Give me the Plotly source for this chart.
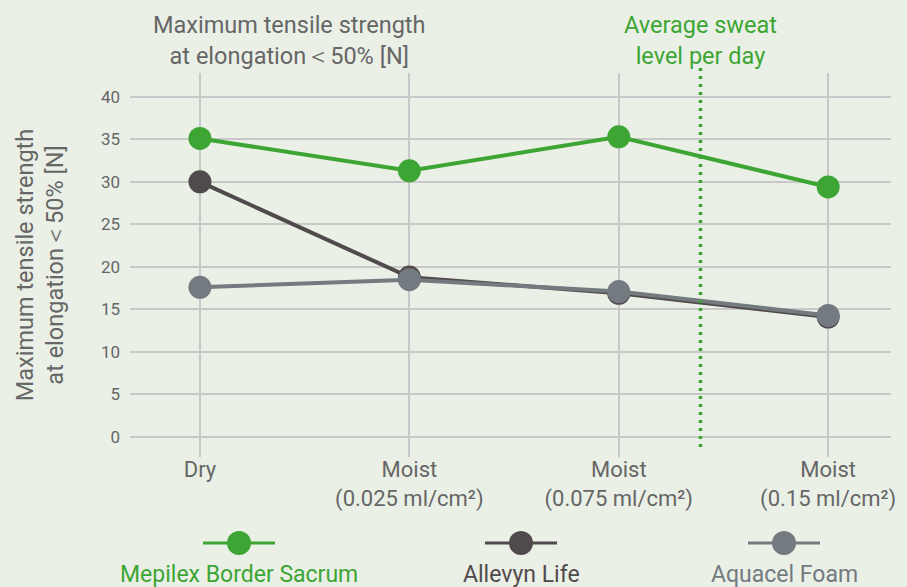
import plotly.graph_objects as go

categories = ["Dry", "Moist<br>(0.025 ml/cm²)", "Moist<br>(0.075 ml/cm²)", "Moist<br>(0.15 ml/cm²)"]
mepilex = [35.1, 31.3, 35.3, 29.4]
allevyn = [30.0, 18.8, 16.9, 14.1]
aquacel = [17.6, 18.5, 17.1, 14.3]
y_ticks = [0, 5, 10, 15, 20, 25, 30, 35, 40]
sweat_level = 2.39

GREEN = "#3da534"
DARK = "#514a4c"
GRAY = "#737a80"
TEXT = "#666666"
GRID = "#c8c8c8"
BG = "#eaf0e6"
FONT = "Roboto"

W, H = 907, 587
L, R, T, B = 130, 16, 73, 130
PW, PH = W - L - R, H - T - B


def px_x(x):
    return (x - L) / PW


def px_y(y):
    return (H - B - y) / PH


xs = list(range(len(categories)))
fig = go.Figure()
for name, vals, col in [("Allevyn Life", allevyn, DARK), ("Aquacel Foam", aquacel, GRAY),
                        ("Mepilex Border Sacrum", mepilex, GREEN)]:
    fig.add_trace(go.Scatter(x=xs, y=vals, mode="lines+markers", name=name,
                             line=dict(color=col, width=4),
                             marker=dict(color=col, size=23), showlegend=False))

fig.add_shape(type="line", x0=sweat_level, x1=sweat_level, xref="x", yref="paper",
              y0=px_y(447), y1=px_y(63), line=dict(color=GREEN, width=3.5, dash="3px,5px"))

fig.update_layout(
    width=W, height=H,
    margin=dict(l=L, r=R, t=T, b=B),
    paper_bgcolor=BG, plot_bgcolor=BG,
    font=dict(family=FONT, color=TEXT),
    xaxis=dict(tickvals=xs, ticktext=categories, range=[-0.334, 3.30],
               showgrid=True, gridcolor=GRID, gridwidth=1.5, zeroline=False,
               showline=False, tickfont=dict(size=22, color=TEXT, family=FONT), ticks="",
               ticklabelstandoff=-3, automargin=False),
    yaxis=dict(tickvals=y_ticks, range=[-2.35, 42.8], showgrid=True, gridcolor=GRID,
               gridwidth=1.5, zeroline=False, showline=False,
               tickfont=dict(size=17, color=TEXT, family=FONT), ticks="",
               ticklabelstandoff=9, automargin=False,
               title=dict(text="Maximum tensile strength<br>at elongation＜50% [N]",
                          font=dict(size=23.5, color=TEXT, family=FONT), standoff=30)),
)

fig.add_annotation(xref="paper", yref="paper", x=px_x(289), y=px_y(40),
                   text="Maximum tensile strength<br>at elongation＜50% [N]", showarrow=False,
                   font=dict(size=23.5, color=TEXT, family=FONT), xanchor="center", yanchor="middle")
fig.add_annotation(xref="x", yref="paper", x=sweat_level, y=px_y(40),
                   text="Average sweat<br>level per day", showarrow=False,
                   font=dict(size=23.5, color=GREEN, family=FONT), xanchor="center", yanchor="middle")

# custom legend (symbol above label)
legend_items = [("Mepilex Border Sacrum", GREEN, 239), ("Allevyn Life", DARK, 521), ("Aquacel Foam", GRAY, 784)]
for name, col, cx in legend_items:
    sy = px_y(543)
    fig.add_shape(type="line", xref="paper", yref="paper", x0=px_x(cx - 36), x1=px_x(cx + 36),
                  y0=sy, y1=sy, line=dict(color=col, width=3))
    fig.add_shape(type="circle", xref="paper", yref="paper", x0=px_x(cx - 12), x1=px_x(cx + 12),
                  y0=sy - 12 / PH, y1=sy + 12 / PH, fillcolor=col, line=dict(width=0))
    fig.add_annotation(xref="paper", yref="paper", x=px_x(cx), y=px_y(574), text=name,
                       showarrow=False, font=dict(size=23, color=col, family=FONT),
                       xanchor="center", yanchor="middle")

fig.write_html("out.html", post_script="document.body.style.margin='0';",
               config={"displayModeBar": False})
